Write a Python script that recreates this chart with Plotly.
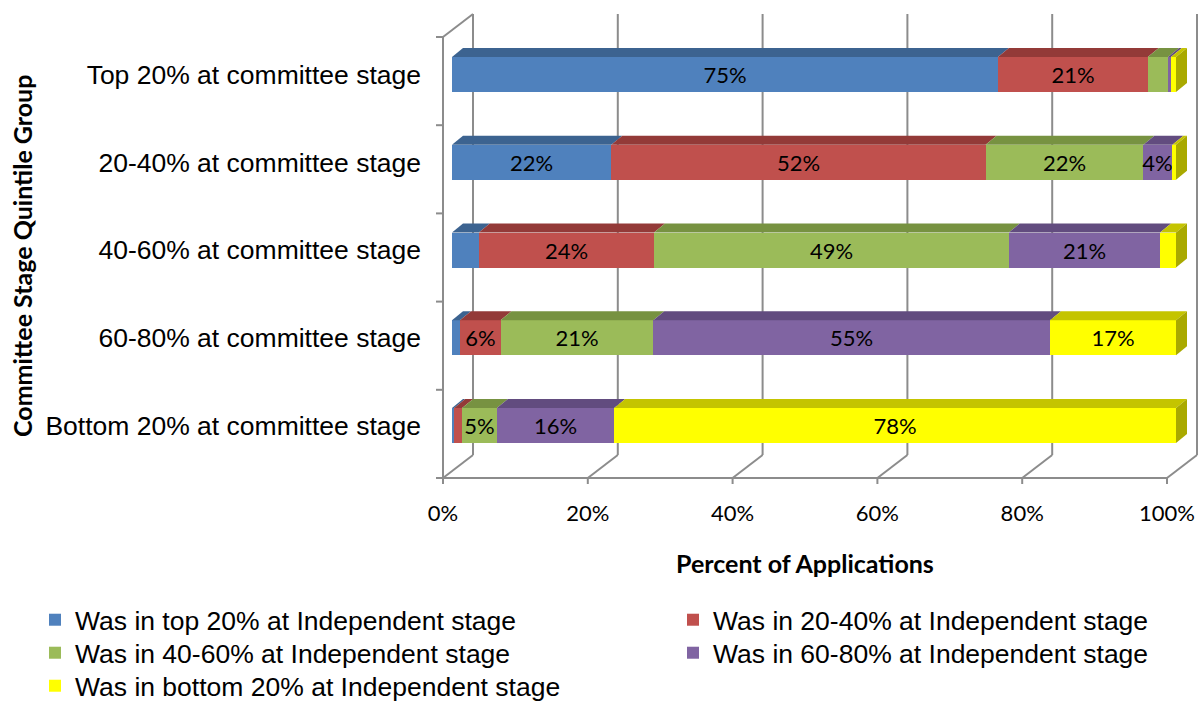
import plotly.graph_objects as go

# ---------------- data ----------------
categories = [
    "Top 20% at committee stage",
    "20-40% at committee stage",
    "40-60% at committee stage",
    "60-80% at committee stage",
    "Bottom 20% at committee stage",
]
series_names = [
    "Was in top 20% at Independent stage",
    "Was in 20-40% at Independent stage",
    "Was in 40-60% at Independent stage",
    "Was in 60-80% at Independent stage",
    "Was in bottom 20% at Independent stage",
]
top20 = [75.4, 22.0, 3.7, 1.1, 0.3]
q20_40 = [20.7, 51.7, 24.2, 5.6, 1.1]
q40_60 = [2.8, 21.8, 49.0, 21.1, 4.8]
q60_80 = [0.4, 4.0, 20.9, 54.8, 16.2]
bottom20 = [0.7, 0.5, 2.2, 17.4, 77.6]
x_ticks = [0, 20, 40, 60, 80, 100]
x_tick_labels = ["0%", "20%", "40%", "60%", "80%", "100%"]
label_min = 3.8

series_values = [top20, q20_40, q40_60, q60_80, bottom20]
front_colors = ["#4F81BD", "#C0504D", "#9BBB59", "#8064A2", "#FFFF00"]
top_colors = ["#3C6390", "#933A38", "#779241", "#624C7F", "#C4C400"]
side_color = "#A9A900"
frame_color = "#8C8C8C"

# ---------------- geometry (pixels -> data) ----------------
FIG_W, FIG_H = 1198, 703
PLOT_L, PLOT_R, PLOT_T, PLOT_B = 436, 1198, 10, 490
BAR0_PX, PX_PER_PCT = 452, 7.24
ROW0_PX, ROW_STEP = 425.5, 87.75   # centre of bottom row, spacing


def xd(px):
    return (px - BAR0_PX) / PX_PER_PCT


def yd(py):
    return (ROW0_PX - py) / ROW_STEP


def px_paper_x(px):
    return (px - PLOT_L) / (PLOT_R - PLOT_L)


def px_paper_y(py):
    return (PLOT_B - py) / (PLOT_B - PLOT_T)


n = len(categories)
ypos = [n - 1 - i for i in range(n)]
bar_w = 35 / ROW_STEP
half = bar_w / 2
ddx = 11 / PX_PER_PCT
ddy = 9 / ROW_STEP

# legend slots: (left px, centre-y px) for each series, two columns
legend_cols = [35, 673]
legend_rows = [620, 653, 686]
legend_ids = ["legend", "legend2", "legend3", "legend4", "legend5"]

fig = go.Figure()

# front faces
for s, (name, vals) in enumerate(zip(series_names, series_values)):
    texts = [f"{round(v)}%" if v >= label_min else "" for v in vals]
    fig.add_trace(go.Bar(
        name=name, x=vals, y=ypos, orientation="h", width=bar_w,
        marker=dict(color=front_colors[s], line=dict(width=0)),
        text=texts, textposition="inside", insidetextanchor="middle",
        textangle=0, constraintext="none",
        textfont=dict(family="Lato", size=22, color="black"),
        legend=legend_ids[s],
        hoverinfo="x+name",
    ))

# 3D top faces and right side faces (from cumulative data)
for r in range(n):
    cum = 0.0
    yt = ypos[r] + half
    for s, vals in enumerate(series_values):
        x0, x1 = cum, cum + vals[r]
        cum = x1
        fig.add_trace(go.Scatter(
            x=[x0, x1, x1 + ddx, x0 + ddx, x0],
            y=[yt, yt, yt + ddy, yt + ddy, yt],
            mode="lines", fill="toself", fillcolor=top_colors[s],
            line=dict(width=0, color=top_colors[s]),
            showlegend=False, hoverinfo="skip",
        ))
    yb = ypos[r] - half
    fig.add_trace(go.Scatter(
        x=[cum, cum + ddx, cum + ddx, cum, cum],
        y=[yb, yb + ddy, yt + ddy, yt, yb],
        mode="lines", fill="toself", fillcolor=side_color,
        line=dict(width=0, color=side_color),
        showlegend=False, hoverinfo="skip",
    ))

# ---------------- 3D frame ----------------
BACK_OFF, DEPTH_X = 21, 30
BACK_TOP, BACK_BOT, FRONT_Y, TICK_BOT = 14, 455, 478, 484
shapes = []


def seg(x0, y0, x1, y1):
    shapes.append(dict(type="line", xref="x", yref="y", layer="below",
                       x0=xd(x0), y0=yd(y0), x1=xd(x1), y1=yd(y1),
                       line=dict(color=frame_color, width=2)))


front_px = []
for v in x_ticks:
    xb = BAR0_PX + BACK_OFF + v * PX_PER_PCT
    xf = xb - DEPTH_X
    front_px.append(xf)
    seg(xb, BACK_TOP, xb, BACK_BOT)
    seg(xb, BACK_BOT, xf, FRONT_Y)
    seg(xf, FRONT_Y, xf, TICK_BOT)
seg(front_px[0], FRONT_Y, front_px[-1], FRONT_Y)
left_top = BACK_TOP + 23
seg(front_px[0], left_top, front_px[0], FRONT_Y)
seg(front_px[0], left_top, front_px[0] + DEPTH_X, BACK_TOP)
for k in range(n + 1):
    yy = left_top + k * (FRONT_Y - left_top) / n
    seg(PLOT_L, yy, front_px[0], yy)

legend_font = dict(family="Liberation Sans, Arial", size=26.5, color="black")
legend_layouts = {}
for s, lid in enumerate(legend_ids):
    legend_layouts[lid] = dict(
        x=px_paper_x(legend_cols[s % 2]), y=px_paper_y(legend_rows[s // 2]),
        xanchor="left", yanchor="middle", orientation="v", font=legend_font,
        borderwidth=0, itemwidth=30, bgcolor="rgba(0,0,0,0)",
    )

fig.update_layout(
    template="none",
    width=FIG_W, height=FIG_H,
    margin=dict(l=PLOT_L, r=FIG_W - PLOT_R, t=PLOT_T, b=FIG_H - PLOT_B,
                autoexpand=False),
    paper_bgcolor="white", plot_bgcolor="white",
    barmode="stack", bargap=0,
    shapes=shapes,
    xaxis=dict(range=[xd(PLOT_L), xd(PLOT_R)], showgrid=False, zeroline=False,
               showline=False, tickmode="array", automargin=False,
               tickvals=[xd(p) for p in front_px], ticktext=x_tick_labels,
               ticks="", ticklabelstandoff=8,
               tickfont=dict(family="Lato", size=22, color="black"), fixedrange=True),
    yaxis=dict(range=[yd(PLOT_B), yd(PLOT_T)], showgrid=False, zeroline=False,
               showline=False, tickmode="array", tickvals=ypos, ticktext=categories,
               ticks="", ticklabelstandoff=14, automargin=False,
               tickfont=dict(family="Liberation Sans, Arial", size=26.5, color="black"),
               fixedrange=True),
    annotations=[
        dict(text="<b>Percent of Applications</b>", xref="paper", yref="paper",
             x=px_paper_x(805), y=px_paper_y(563), xanchor="center", yanchor="middle",
             showarrow=False, font=dict(family="Lato", size=25, color="black")),
        dict(text="<b>Committee Stage Quintile Group</b>", xref="paper", yref="paper",
             x=px_paper_x(22), y=px_paper_y(256), xanchor="center", yanchor="middle",
             textangle=-90, showarrow=False,
             font=dict(family="Lato", size=25, color="black")),
    ],
    **legend_layouts,
)

fig.write_html("out.html", config={"displayModeBar": False},
               post_script="document.body.style.margin='0';document.body.style.overflow='hidden';")
